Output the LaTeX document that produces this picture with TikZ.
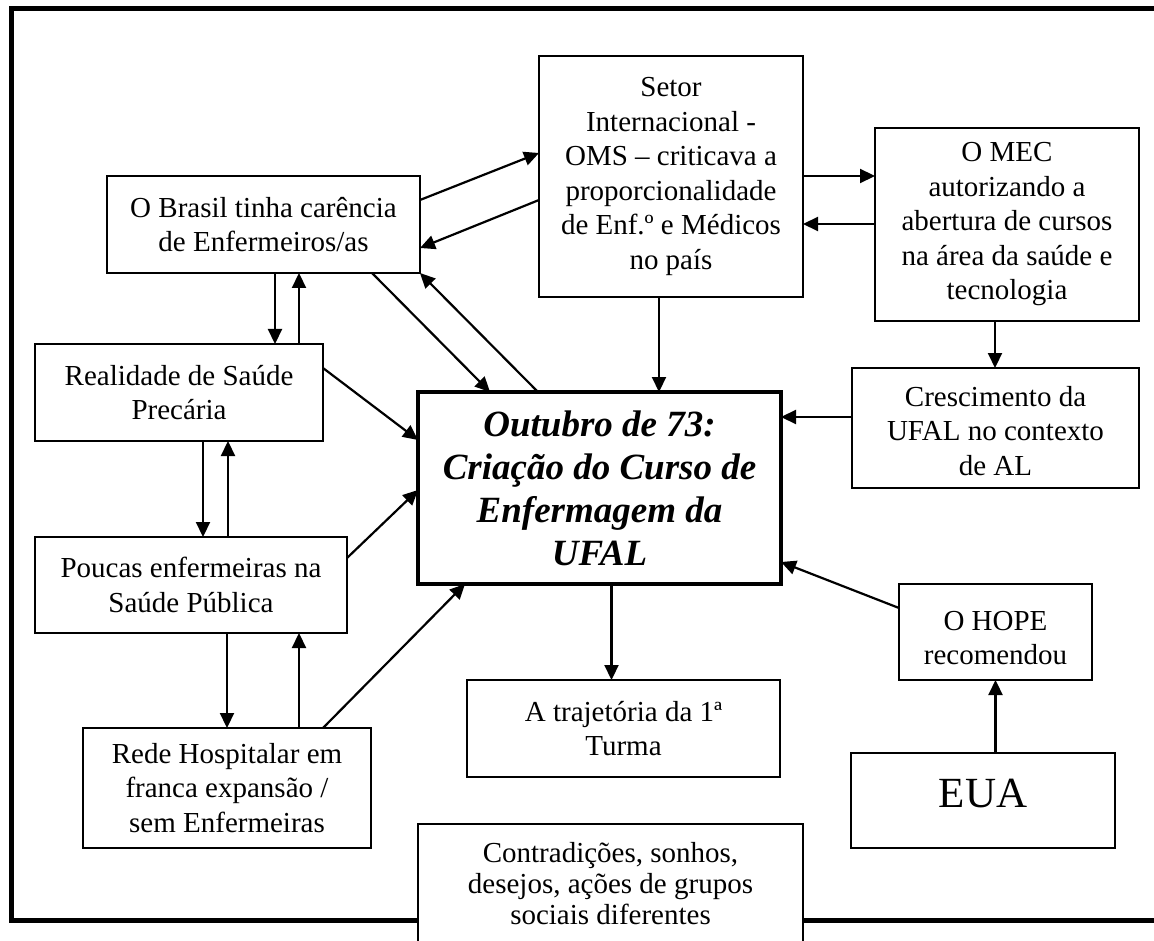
\documentclass[tikz,border=0pt]{standalone}
\usepackage{fontspec}
\setmainfont{Liberation Serif}
\usetikzlibrary{arrows.meta,calc}
\begin{document}
\begin{tikzpicture}[x=1pt,y=-1pt,
  box/.style={draw, line width=1.6pt, anchor=north west, outer sep=0pt, inner sep=0pt,
    align=center, font=\fontsize{29}{34.5}\selectfont},
  txt/.style={inner sep=0pt, align=center, font=\fontsize{29}{34.5}\selectfont},
  arr/.style={line width=2.2pt, -{Triangle[length=15pt,width=14pt]}},
  frame/.style={line width=5pt}]
\useasboundingbox (0,0) rectangle (1154,941);
\clip (0,0) rectangle (1154,941);
\fill[white] (0,0) rectangle (1154,941);
% outer frame
\draw[frame] (1160,9) -- (11,9) -- (11,920) -- (1160,920);
% boxes
\node[box, minimum width=313pt, minimum height=97pt] (brasil) at (107,176) {O Brasil tinha carência\\de Enfermeiros/as};
\node[box, minimum width=264pt, minimum height=241pt] (setor) at (539,56) {Setor\\Internacional -\\OMS – criticava a\\proporcionalidade\\de Enf.º e Médicos\\no país};
\node[box, minimum width=264pt, minimum height=193pt] (mec) at (875,128) {O MEC\\autorizando a\\abertura de cursos\\na área da saúde e\\tecnologia};
\node[box, minimum width=287pt, minimum height=120pt] (cresc) at (852,368) {};
\node[txt] (cresctext) at ([yshift=-3pt]cresc.center) {Crescimento da\\UFAL no contexto\\de AL};
\node[box, line width=3.5pt, minimum width=363pt, minimum height=192pt,
  font=\fontsize{37}{43}\selectfont\bfseries\itshape] (central) at (418,392) {Outubro de 73:\\Criação do Curso de\\Enfermagem da\\UFAL};
\node[box, minimum width=288pt, minimum height=97pt] (real) at (35,344) {Realidade de Saúde\\Precária};
\node[box, minimum width=312pt, minimum height=96pt] (poucas) at (35,537) {Poucas enfermeiras na\\Saúde Pública};
\node[box, minimum width=288pt, minimum height=120pt] (rede) at (83,728) {Rede Hospitalar em\\franca expansão /\\sem Enfermeiras};
\node[box, minimum width=313pt, minimum height=97pt] (traj) at (467,680) {A trajetória da 1ª\\Turma};
\node[box, minimum width=193pt, minimum height=96pt] (hope) at (899,584) {};
\node[txt] (hopetext) at ([yshift=-6pt]hope.center) {O HOPE\\recomendou};
\node[box, minimum width=264pt, minimum height=95pt] (eua) at (851,753) {};
\node[txt, font=\fontsize{43}{48}\selectfont] (euatext) at ([yshift=7pt]eua.center) {EUA};
\node[box, fill=white, minimum width=385pt, minimum height=120pt, font=\fontsize{29}{31}\selectfont] (contra) at (418,824) {Contradições, sonhos,\\desejos, ações de grupos\\sociais diferentes};
% connectors
\draw[arr] ([yshift=-24pt]brasil.north east) -- ([yshift=-97pt]setor.north west);
\draw[arr] ([yshift=-144pt]setor.north west) -- ([yshift=25pt]brasil.south east);
\draw[arr] ([yshift=-120pt]setor.north east) coordinate (a1) -- (a1 -| mec.west);
\draw[arr] ([yshift=-96pt]mec.north west) coordinate (a2) -- (a2 -| setor.east);
\draw[arr] ([xshift=-48pt]brasil.south east) -- ([xshift=72pt]central.north west);
\draw[arr] ([xshift=120pt]central.north west) -- (brasil.south east);
\draw[arr] ([xshift=-12pt]setor.south) coordinate (a3) -- (a3 |- central.north);
\draw[arr] ([xshift=-12pt]mec.south) coordinate (a4) -- (a4 |- cresc.north);
\draw[arr] ([yshift=-49pt]cresc.north west) coordinate (a5) -- (a5 -| central.east);
\draw[arr] ([yshift=-24pt]hope.north west) -- ([yshift=22pt]central.south east);
\draw[arr] (hope.south |- eua.north) -- (hope.south);
\draw[arr] ([xshift=12pt]central.south) coordinate (a6) -- (a6 |- traj.north);
\draw[arr] ([xshift=-48pt]real.north east |- brasil.south) -- ([xshift=-48pt]real.north east);
\draw[arr] ([xshift=-24pt]real.north east) coordinate (a7) -- (a7 |- brasil.south);
\draw[arr] ([yshift=-24pt]real.north east) -- ([yshift=-48pt]central.north west);
\draw[arr] ([xshift=168pt]real.south west) coordinate (a8) -- (a8 |- poucas.north);
\draw[arr] ([xshift=193pt]poucas.north west) coordinate (a9) -- (a9 |- real.south);
\draw[arr] ([yshift=-21pt]poucas.north east) -- ([yshift=-98pt]central.north west);
\draw[arr] ([xshift=192pt]poucas.south west) coordinate (a10) -- (a10 |- rede.north);
\draw[arr] ([xshift=216pt]rede.north west) coordinate (a11) -- (a11 |- poucas.south);
\draw[arr] ([xshift=-48pt]rede.north east) -- ([xshift=47pt]central.south west);
\end{tikzpicture}
\end{document}
